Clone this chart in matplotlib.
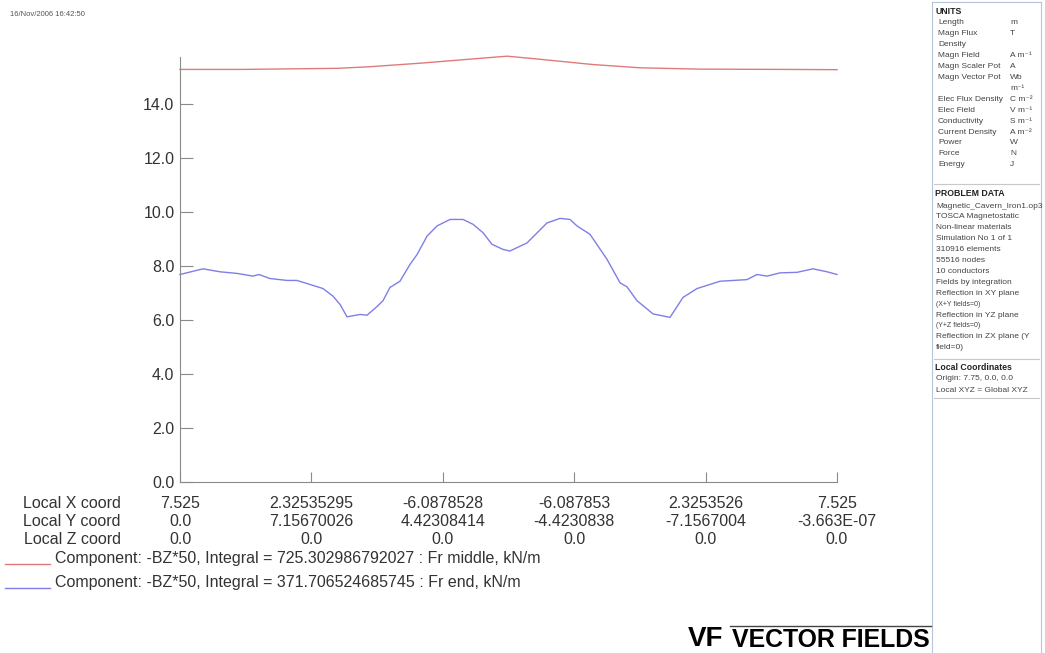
"""
    Re-drawing of a Vector Fields (OPERA) line plot:
    -BZ*50 along two paths (Fr middle and Fr end), with the units/problem panel.
"""
# Modules:
import matplotlib
matplotlib.use("Agg")
import matplotlib.pyplot as plt

plt.rcParams['font.family'] = ['Liberation Sans', 'DejaVu Sans']

# Data (distance along path in tick units):
red_s = [0.0, 0.48, 1.195, 1.446, 1.826, 2.207, 2.489, 2.689, 3.143, 3.501, 3.957, 4.60, 5.0]
red_v = [15.29, 15.29, 15.33, 15.39, 15.52, 15.67, 15.78, 15.69, 15.47, 15.35, 15.30, 15.29, 15.28]

blue_s = [0.000, 0.175, 0.304, 0.434, 0.556, 0.601, 0.685, 0.814, 0.890, 0.989,
          1.088, 1.164, 1.218, 1.271, 1.370, 1.423, 1.499, 1.545, 1.598, 1.674,
          1.750, 1.804, 1.880, 1.956, 2.055, 2.154, 2.230, 2.306, 2.374, 2.458,
          2.511, 2.641, 2.793, 2.892, 2.968, 3.021, 3.120, 3.250, 3.349, 3.402,
          3.478, 3.600, 3.729, 3.828, 3.935, 4.110, 4.315, 4.391, 4.467, 4.566,
          4.696, 4.817, 4.924, 5.000]
blue_v = [7.69, 7.90, 7.79, 7.73, 7.63, 7.69, 7.54, 7.47, 7.47, 7.32,
          7.17, 6.89, 6.58, 6.12, 6.21, 6.18, 6.50, 6.72, 7.21, 7.44,
          8.06, 8.43, 9.11, 9.49, 9.73, 9.73, 9.55, 9.24, 8.81, 8.62,
          8.56, 8.86, 9.60, 9.77, 9.73, 9.49, 9.18, 8.25, 7.38, 7.23,
          6.72, 6.23, 6.10, 6.84, 7.17, 7.44, 7.50, 7.69, 7.63, 7.75,
          7.77, 7.90, 7.79, 7.69]

# Tick labels:
x_coord = ["7.525", "2.32535295", "-6.0878528", "-6.087853", "2.3253526", "7.525"]
y_coord = ["0.0", "7.15670026", "4.42308414", "-4.4230838", "-7.1567004", "-3.663E-07"]
z_coord = ["0.0", "0.0", "0.0", "0.0", "0.0", "0.0"]
y_ticks = [0.0, 2.0, 4.0, 6.0, 8.0, 10.0, 12.0, 14.0]

red_label = "Component: -BZ*50, Integral = 725.302986792027 : Fr middle, kN/m"
blue_label = "Component: -BZ*50, Integral = 371.706524685745 : Fr end, kN/m"

# Side panel:
units = [("Length", "m"), ("Magn Flux", "T"), ("Density", ""), ("Magn Field", "A m⁻¹"),
         ("Magn Scaler Pot", "A"), ("Magn Vector Pot", "Wb"), ("", "m⁻¹"),
         ("Elec Flux Density", "C m⁻²"), ("Elec Field", "V m⁻¹"), ("Conductivity", "S m⁻¹"),
         ("Current Density", "A m⁻²"), ("Power", "W"), ("Force", "N"), ("Energy", "J")]
problem = ["Magnetic_Cavern_Iron1.op3", "TOSCA Magnetostatic", "Non-linear materials",
           "Simulation No 1 of 1", "310916 elements", "55516 nodes", "10 conductors",
           "Fields by integration", "Reflection in XY plane", "(X+Y fields=0)",
           "Reflection in YZ plane", "(Y+Z fields=0)", "Reflection in ZX plane (Y",
           "field=0)"]
local = ["Origin: 7.75, 0.0, 0.0", "Local XYZ = Global XYZ"]

W, H = 1045, 653
RED = '#e07a7a'
BLUE = '#7f7fe6'
TXT = '#333333'
GREY = '#8a8a8a'


def px(x, y):
    """ Pixel position to figure fraction. """
    return x / W, 1 - y / H


fig = plt.figure(figsize=(W / 100, H / 100), dpi=100)
ax = fig.add_axes([180 / W, 1 - 482 / H, (837 - 180) / W, (482 - 57) / H])

# Curves:
ax.plot(red_s, red_v, color=RED, lw=1.0, clip_on=False)
ax.plot(blue_s, blue_v, color=BLUE, lw=1.0, clip_on=False)

ax.set_xlim(0, 5)
ax.set_ylim(0, 15.75)
for side in ['top', 'right']:
    ax.spines[side].set_visible(False)
for side in ['left', 'bottom']:
    ax.spines[side].set_color(GREY)
    ax.spines[side].set_linewidth(0.8)

ax.set_yticks(y_ticks)
ax.set_yticklabels(["%.1f" % v for v in y_ticks])
ax.set_xticks(range(6))
ax.set_xticklabels(["%s\n%s\n%s" % t for t in zip(x_coord, y_coord, z_coord)],
                   linespacing=1.25)
ax.tick_params(axis='y', direction='in', length=9, width=0.8, color=GREY,
               labelsize=11.5, labelcolor=TXT, pad=4)
ax.tick_params(axis='x', direction='in', length=7, width=0.8, color=GREY,
               labelsize=11.5, labelcolor=TXT, pad=10)

# Row names for the coordinates:
fig.text(*px(72, 496), "Local X coord\nLocal Y coord\nLocal Z coord", ha='center',
         va='top', fontsize=11.5, color=TXT, linespacing=1.25)

# Legend:
fig.add_artist(plt.Line2D([5 / W, 50 / W], [1 - 564 / H] * 2, color=RED, lw=1.0))
fig.add_artist(plt.Line2D([5 / W, 50 / W], [1 - 588 / H] * 2, color=BLUE, lw=1.0))
fig.text(*px(55, 558), red_label, ha='left', va='center', fontsize=11.5, color=TXT)
fig.text(*px(55, 582), blue_label, ha='left', va='center', fontsize=11.5, color=TXT)

# Time stamp:
fig.text(*px(10, 14), "16/Nov/2006 16:42:50", ha='left', va='center', fontsize=5.5,
         color='#555555')

# Side panel frame:
for xv in [932, 1041]:
    fig.add_artist(plt.Line2D([xv / W] * 2, [1 - 2 / H, 0], color='#b8c4d8', lw=0.8))
fig.add_artist(plt.Line2D([932 / W, 1041 / W], [1 - 2 / H] * 2, color='#b8c4d8', lw=0.8))
for yv in [184, 359, 398]:
    fig.add_artist(plt.Line2D([934 / W, 1039 / W], [1 - yv / H] * 2, color='#c8c8c8', lw=0.8))

fs = 6.0
fig.text(*px(935, 11), "UNITS", fontsize=6.3, weight='bold', va='center', color='#222222')
for i, (name, unit) in enumerate(units):
    yy = 23 + i * 10.9
    fig.text(*px(938, yy), name, fontsize=fs, va='center', color='#444444')
    fig.text(*px(1010, yy), unit, fontsize=fs, va='center', color='#444444')

fig.text(*px(935, 194), "PROBLEM DATA", fontsize=6.3, weight='bold', va='center', color='#222222')
for i, line in enumerate(problem):
    small = line.startswith("(")
    fig.text(*px(936, 206 + i * 10.9), line, fontsize=5.0 if small else fs,
             va='center', color='#444444')

fig.text(*px(935, 367), "Local Coordinates", fontsize=6.3, weight='bold', va='center', color='#222222')
for i, line in enumerate(local):
    fig.text(*px(936, 379 + i * 11), line, fontsize=fs, va='center', color='#444444')

# Vector Fields logo:
fig.text(*px(688, 639), "VF", fontsize=20, weight='bold', va='center', ha='left', color='black')
fig.add_artist(plt.Line2D([730 / W, 931 / W], [1 - 626 / H] * 2, color='#444444', lw=1.0))
fig.text(*px(732, 640), "VECTOR FIELDS", fontsize=17.9, va='center', ha='left',
         weight='semibold', color='black')

fig.savefig("out.png", dpi=100)
